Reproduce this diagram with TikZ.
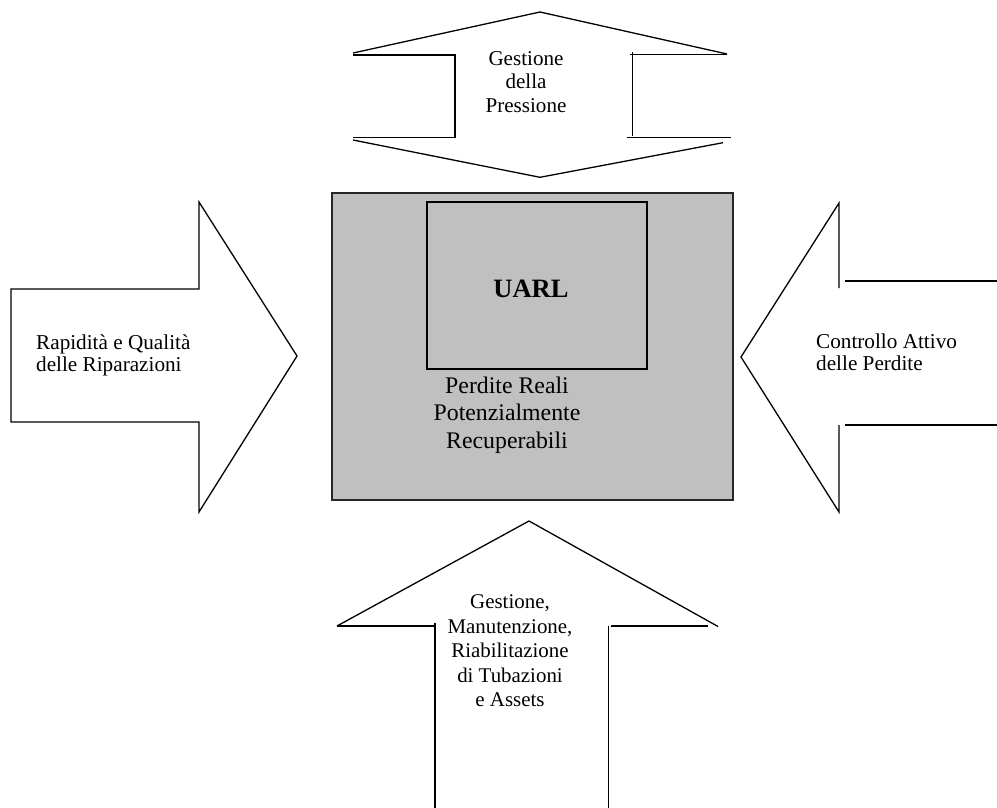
\documentclass[tikz,border=0pt]{standalone}
\usepackage{fontspec}
\setmainfont{Liberation Serif}
\definecolor{boxgray}{HTML}{C0C0C0}
\begin{document}
\begin{tikzpicture}[x=1pt,y=-1pt,
  outline/.style={draw=black, line width=1.3pt, line join=miter},
  sidelbl/.style={inner sep=0pt, align=left, font=\fontsize{21.2}{22}\selectfont},
  toplbl/.style={inner sep=0pt, align=center, font=\fontsize{21.1}{23.3}\selectfont},
  botlbl/.style={inner sep=0pt, align=center, font=\fontsize{20.9}{24.5}\selectfont},
  cenlbl/.style={inner sep=0pt, align=center, font=\fontsize{23.8}{27.3}\selectfont},
  uarllbl/.style={inner sep=0pt, font=\fontsize{26.5}{30}\selectfont\bfseries}]
\useasboundingbox (0,0) rectangle (997,808);
\fill[white] (0,0) rectangle (997,808);

% central box
\draw[fill=boxgray, draw=black!85, line width=1.5pt] (332,193) rectangle (733,500);
\draw[outline] (427,202) rectangle (647,369);
\node[uarllbl] (uarl) at (531,288.5) {UARL};
\node[cenlbl] (perdite) at (507,415) {Perdite Reali\\Potenzialmente\\Recuperabili};

% left arrow
\draw[outline] (11,289) -- (199,289) -- (199,202) -- (297,356) -- (199,512) -- (199,422) -- (11,422) -- cycle;
\node[sidelbl, anchor=west] (rapid) at (36,355.5) {Rapidità e Qualità\\delle Riparazioni};

% right arrow
\draw[outline] (839,288) -- (839,203) -- (741,357) -- (839,512) -- (839,425);
\draw[outline] (845,281) -- (997,281);
\draw[outline] (845,425) -- (997,425);
\node[sidelbl, anchor=west] (contr) at (816,352.3) {Controllo Attivo\\delle Perdite};

% top double arrow
\draw[outline] (353,53) -- (540,12) -- (727,54);
\draw[outline] (353,55) -- (455,55) -- (455,137.3) -- (353,137.3);
\draw[outline] (727,54.3) -- (630,54.3);
\draw[outline] (632.3,52) -- (632.3,136);
\draw[outline] (627,137.7) -- (731,137.7);
\draw[outline] (353,140) -- (540,177.3) -- (723,142.7);
\node[toplbl] (press) at (526,82) {Gestione\\della\\Pressione};

% bottom arrow
\draw[outline] (337,626) -- (529,521) -- (718,626.5);
\draw[outline] (337,626) -- (434,626);
\draw[outline] (435,623) -- (435,808);
\draw[outline] (608.3,625.7) -- (608.3,808);
\draw[outline] (611,626) -- (708,626);
\node[botlbl] (gest) at (510,651) {Gestione,\\Manutenzione,\\Riabilitazione\\di Tubazioni\\e Assets};
\end{tikzpicture}
\end{document}
